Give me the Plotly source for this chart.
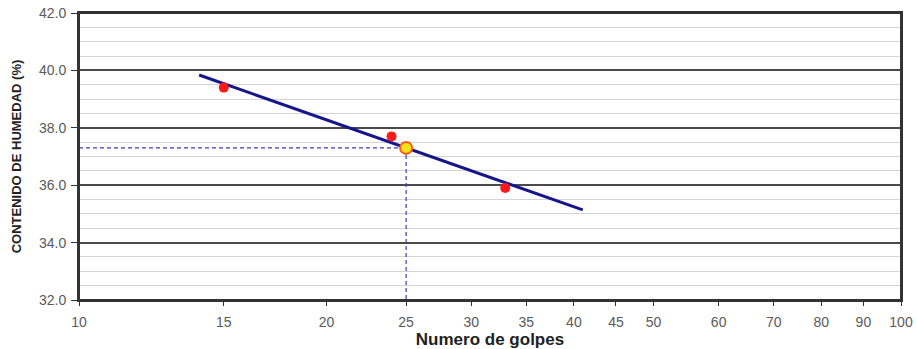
import plotly.graph_objects as go

# Data
golpes = [15, 24, 33]
humedad = [39.4, 37.7, 35.9]
fit_x = [14, 41]
fit_y = [39.84, 35.14]
ll_x = [25]
ll_y = [37.3]
x_ticks = [10, 15, 20, 25, 30, 35, 40, 45, 50, 60, 70, 80, 90, 100]
y_ticks = [32, 34, 36, 38, 40, 42]

fig = go.Figure()

# dashed guide lines
fig.add_trace(go.Scatter(x=[10, ll_x[0]], y=[ll_y[0], ll_y[0]], mode="lines",
                         line=dict(color="#3b3bc4", width=1.2, dash="4px,3px"),
                         hoverinfo="skip", showlegend=False))
fig.add_trace(go.Scatter(x=[ll_x[0], ll_x[0]], y=[ll_y[0], 32], mode="lines",
                         line=dict(color="#3b3bc4", width=1.2, dash="4px,3px"),
                         hoverinfo="skip", showlegend=False))

# fit line
fig.add_trace(go.Scatter(x=fit_x, y=fit_y, mode="lines",
                         line=dict(color="#16168a", width=3), showlegend=False))

# data points
fig.add_trace(go.Scatter(x=golpes, y=humedad, mode="markers",
                         marker=dict(color="#ff1a1a", size=10), showlegend=False))

# liquid limit point
fig.add_trace(go.Scatter(x=ll_x, y=ll_y, mode="markers",
                         marker=dict(color="#f2e21a", size=12,
                                     line=dict(color="#ff5a1a", width=2)),
                         showlegend=False))

# plot frame
fig.add_shape(type="rect", xref="paper", yref="paper", x0=0, x1=1, y0=0, y1=1,
              line=dict(color="#333", width=2), layer="above")

fig.update_layout(
    width=917, height=349,
    margin=dict(l=79, r=16, t=13, b=49),
    paper_bgcolor="white", plot_bgcolor="white",
    font=dict(family="Liberation Sans, Arial, sans-serif", size=13, color="#5a5a5a"),
    xaxis=dict(
        type="log", range=[1, 2], automargin=False,
        tickvals=x_ticks, ticktext=[str(v) for v in x_ticks],
        tickfont=dict(size=14), ticklabelstandoff=4,
        showgrid=False, zeroline=False,
        showline=True, linecolor="#333", linewidth=2, mirror=True,
        ticks="outside", ticklen=4, tickcolor="#333", tickwidth=1,
        title=dict(text="<b>Numero de golpes</b>", font=dict(size=17, color="#222"), standoff=4),
    ),
    yaxis=dict(
        range=[32, 42], automargin=False,
        tickvals=y_ticks, ticktext=[f"{v:.1f}" for v in y_ticks],
        tickfont=dict(size=14), ticklabelstandoff=2,
        showgrid=True, gridcolor="#4a4a4a", gridwidth=1.8,
        minor=dict(dtick=0.5, showgrid=True, gridcolor="#d4d4d4", gridwidth=1),
        zeroline=False,
        showline=True, linecolor="#333", linewidth=2, mirror=True,
        ticks="outside", ticklen=6, tickcolor="#333", tickwidth=1,
        title=dict(text="<b>CONTENIDO DE HUMEDAD (%)</b>", font=dict(size=13, color="#222"), standoff=14),
    ),
)

fig.write_html("out.html", config={"displayModeBar": False},
               post_script="document.body.style.margin='0px';")
